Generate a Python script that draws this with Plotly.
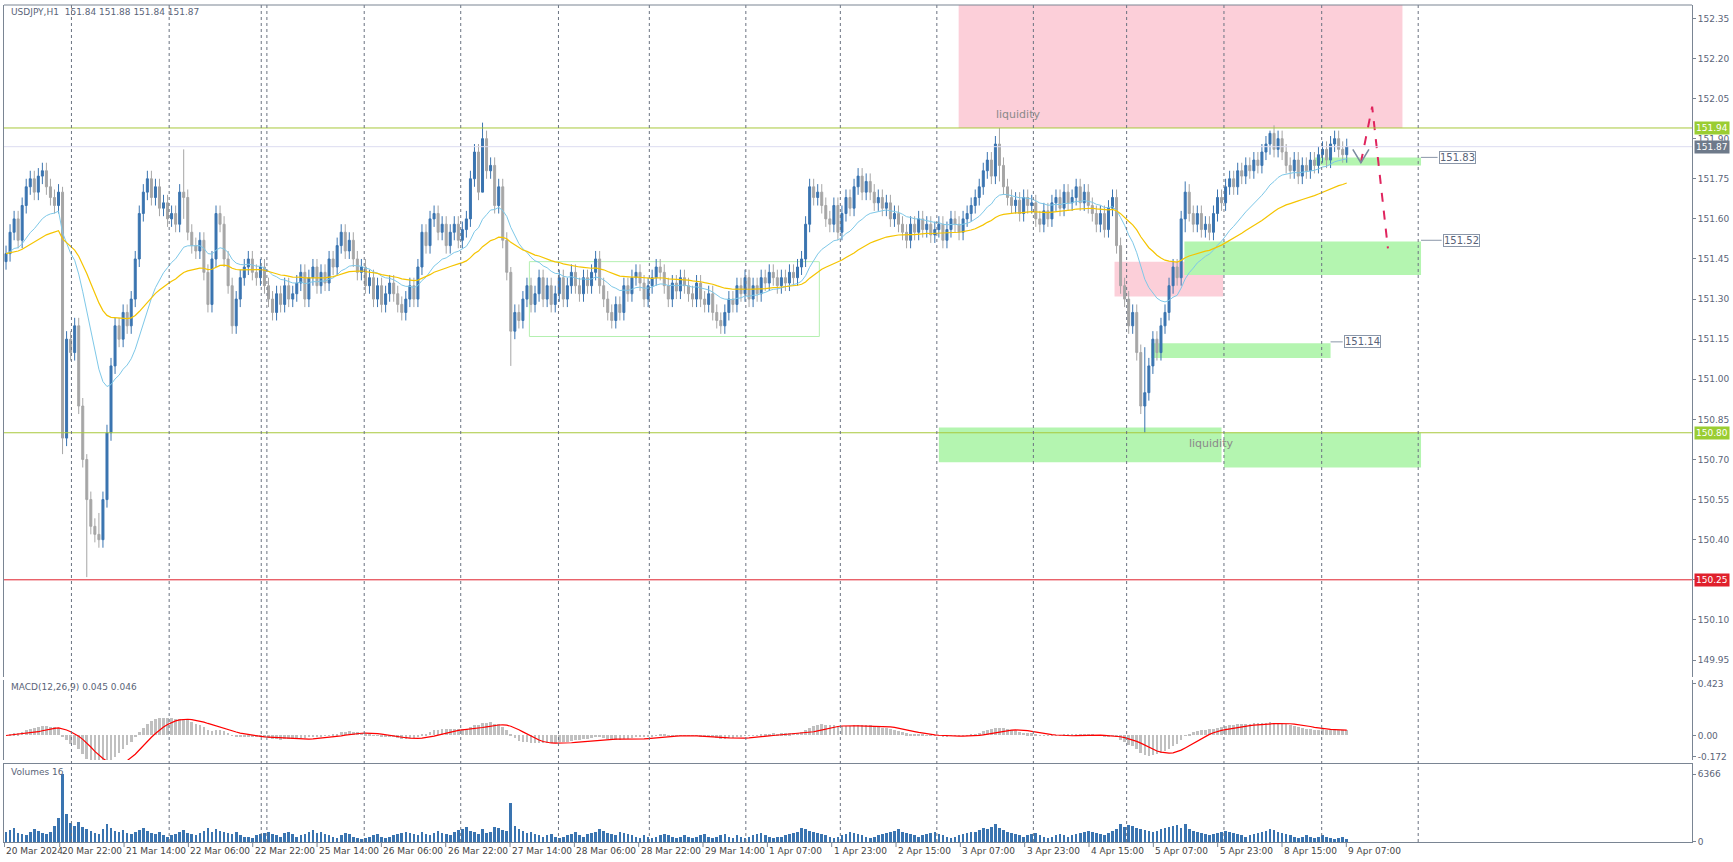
import plotly.graph_objects as go
import pandas as pd

closes = [
151.47,151.55,151.60,151.52,151.65,151.72,151.75,151.70,151.76,151.78,151.72,151.68,151.65,151.70,150.78,151.15,151.10,151.20,150.90,150.70,150.55,150.45,150.42,150.40,
150.55,150.80,151.05,151.20,151.15,151.25,151.20,151.30,151.45,151.62,151.70,151.75,151.68,151.72,151.64,151.66,151.60,151.62,151.58,151.70,151.68,151.55,151.50,151.48,
151.52,151.40,151.28,151.45,151.62,151.58,151.45,151.35,151.20,151.30,151.38,151.42,151.45,151.40,151.38,151.42,151.35,151.30,151.25,151.32,151.28,151.35,151.30,151.32,
151.36,151.40,151.30,151.38,151.42,151.35,151.40,151.36,151.45,151.42,151.50,151.55,151.48,151.52,151.45,151.40,151.42,151.35,151.38,151.30,151.35,151.28,151.32,151.36,
151.32,151.28,151.25,151.30,151.35,151.30,151.42,151.55,151.50,151.60,151.62,151.55,151.58,151.50,151.55,151.58,151.52,151.56,151.60,151.75,151.85,151.70,151.90,151.78,
151.80,151.65,151.72,151.52,151.40,151.18,151.25,151.22,151.30,151.35,151.28,151.32,151.38,151.30,151.35,151.28,151.32,151.38,151.30,151.35,151.40,151.35,151.32,151.38,
151.35,151.40,151.45,151.35,151.30,151.25,151.22,151.28,151.25,151.35,151.32,151.38,151.40,151.36,151.30,151.35,151.38,151.42,151.40,151.35,151.30,151.36,151.33,151.38,
151.35,151.32,151.30,151.36,151.30,151.28,151.32,151.25,151.22,151.20,151.25,151.30,151.28,151.35,151.32,151.38,151.30,151.35,151.32,151.38,151.36,151.40,151.38,151.35,
151.38,151.36,151.40,151.38,151.42,151.45,151.58,151.72,151.68,151.70,151.65,151.60,151.58,151.65,151.55,151.62,151.68,151.64,151.72,151.76,151.70,151.74,151.70,151.66,
151.68,151.64,151.66,151.60,151.62,151.58,151.55,151.52,151.58,151.55,151.60,151.56,151.58,151.54,151.56,151.58,151.52,151.56,151.60,151.58,151.55,151.60,151.62,151.65,
151.68,151.72,151.78,151.82,151.76,151.88,151.80,151.72,151.68,151.65,151.67,151.62,151.68,151.65,151.66,151.60,151.58,151.63,151.60,151.66,151.68,151.64,151.70,151.66,
151.68,151.72,151.66,151.70,151.65,151.62,151.58,151.62,151.56,151.64,151.68,151.50,151.35,151.30,151.20,151.25,151.10,150.90,150.95,151.05,151.15,151.10,151.20,151.25,
151.35,151.42,151.38,151.60,151.70,151.62,151.58,151.62,151.56,151.58,151.55,151.62,151.68,151.66,151.72,151.75,151.72,151.78,151.76,151.80,151.78,151.82,151.80,151.85,
151.88,151.92,151.86,151.90,151.85,151.80,151.78,151.82,151.76,151.80,151.78,151.82,151.80,151.84,151.86,151.82,151.88,151.90,151.86,151.84,151.87]

volumes = [
900,1100,1300,800,700,600,900,1200,1000,800,700,900,1500,2200,6366,2600,1800,1500,1900,1400,1200,1000,800,700,
1200,1700,1300,1000,900,1100,800,700,900,1100,1300,1000,800,700,900,600,500,600,700,900,1100,800,700,600,
800,1000,1300,900,1200,1000,900,800,700,900,600,500,500,400,600,700,800,900,700,600,500,800,900,700,
500,600,700,900,1100,800,900,700,600,500,400,600,800,700,500,400,300,400,500,600,700,500,400,500,
600,700,800,900,800,700,600,900,700,600,800,1000,800,700,600,900,1100,1200,1400,1000,900,700,1200,800,
900,1400,1300,1100,1000,3600,1500,1200,1000,800,900,700,600,500,600,700,500,400,500,600,700,900,600,500,
700,800,900,1200,1000,800,700,600,900,800,700,600,500,400,600,500,400,500,600,700,600,500,400,500,
600,500,400,500,600,700,500,400,500,600,700,500,400,600,500,400,500,600,700,800,600,500,400,500,
500,600,700,800,900,1300,1200,1000,900,800,700,600,500,400,500,600,700,900,800,700,600,500,400,500,
600,700,800,900,1000,1200,900,800,700,600,500,600,700,800,900,700,600,500,400,500,600,700,800,900,
900,1100,1300,1200,1400,1700,1300,1100,900,800,700,600,500,600,700,800,600,500,400,500,600,700,600,500,
600,700,800,900,1000,900,800,700,600,800,1000,1200,1700,1400,1600,1500,1300,1200,1100,1000,900,1000,1200,1300,
1400,1500,1600,1300,1700,1200,1000,900,800,700,600,700,800,900,1000,900,800,700,600,500,600,700,800,900,
1000,1200,1100,900,800,700,600,500,400,500,600,500,400,500,600,500,400,300,400,500,300]

extremes = {14: (151.72, 150.72), 20: (150.72, 150.26), 23: (150.50, 150.37), 44: (151.86, 151.60),
            118: (151.96, 151.70), 125: (151.42, 151.05), 246: (151.94, 151.74), 282: (151.12, 150.80),
            313: (151.93, 151.84), 292: (151.74, 151.55)}

x_labels = ["20 Mar 2024","20 Mar 22:00","21 Mar 14:00","22 Mar 06:00","22 Mar 22:00","25 Mar 14:00",
            "26 Mar 06:00","26 Mar 22:00","27 Mar 14:00","28 Mar 06:00","28 Mar 22:00","29 Mar 14:00",
            "1 Apr 07:00","1 Apr 23:00","2 Apr 15:00","3 Apr 07:00","3 Apr 23:00","4 Apr 15:00",
            "5 Apr 07:00","5 Apr 23:00","8 Apr 15:00","9 Apr 07:00"]
x_label_pos = [-0.4] + [13.3 + 15.93 * k for k in range(21)]
separators = [16.2, 40.4, 63.2, 64.6, 88.7, 112.6, 136.8, 159.3, 183.2, 206.6, 230.5, 254.4, 277.5, 301.6, 325.8, 349.7]

n = len(closes)
idx = list(range(n))
opens = [closes[0] - 0.03] + closes[:-1]
highs, lows = [], []
for i in idx:
    h = max(opens[i], closes[i]) + 0.03
    l = min(opens[i], closes[i]) - 0.03
    if i in extremes:
        h, l = extremes[i]
    highs.append(h); lows.append(l)

s = pd.Series(closes)
ema_fast = s.ewm(span=20, adjust=False).mean()
ema_slow = s.ewm(span=50, adjust=False).mean()
macd = s.ewm(span=12, adjust=False).mean() - s.ewm(span=26, adjust=False).mean()
signal = macd.rolling(9, min_periods=1).mean()

BLUE = "#3a74b0"; GRAY = "#a6a6a6"; FONT = "DejaVu Sans"
fig = go.Figure()
fig.add_trace(go.Candlestick(x=idx, open=opens, high=highs, low=lows, close=closes,
    increasing=dict(line=dict(color=BLUE, width=1), fillcolor=BLUE),
    decreasing=dict(line=dict(color=GRAY, width=1), fillcolor=GRAY),
    whiskerwidth=0, xaxis="x", yaxis="y", showlegend=False, hoverinfo="skip"))
fig.add_trace(go.Scatter(x=idx, y=ema_fast, mode="lines", line=dict(color="#7ec8e8", width=1), xaxis="x", yaxis="y", showlegend=False))
fig.add_trace(go.Scatter(x=idx, y=ema_slow, mode="lines", line=dict(color="#f5c400", width=1.2), xaxis="x", yaxis="y", showlegend=False))
fig.add_trace(go.Bar(x=idx, y=macd, marker_color="#c0c0c0", marker_line_width=0, width=0.65, xaxis="x", yaxis="y2", showlegend=False))
fig.add_trace(go.Scatter(x=idx, y=signal, mode="lines", line=dict(color="#ff0000", width=1.2), xaxis="x", yaxis="y2", showlegend=False))
fig.add_trace(go.Bar(x=idx, y=volumes, marker_color=BLUE, marker_line_width=0, width=0.65, xaxis="x", yaxis="y3", showlegend=False))

shapes = []
def rect(x0, x1, y0, y1, fill, line=None):
    shapes.append(dict(type="rect", xref="x", yref="y", x0=x0, x1=x1, y0=y0, y1=y1,
                       fillcolor=fill, line=dict(width=1 if line else 0, color=line or "rgba(0,0,0,0)"), layer="below"))
rect(235.9, 345.8, 151.94, 152.42, "#fccfd9")
rect(274.5, 301.4, 151.31, 151.44, "#fccfd9")
rect(291.8, 350.4, 151.39, 151.515, "#b4f5b0")
rect(324, 350.4, 151.80, 151.83, "#b4f5b0")
rect(283.6, 328, 151.08, 151.135, "#b4f5b0")
rect(231, 301, 150.69, 150.82, "#b4f5b0")
rect(301.6, 350.4, 150.67, 150.80, "#b4f5b0")
rect(129.6, 201.4, 151.16, 151.44, "rgba(0,0,0,0)", "#b4f0b0")
for yv, col in [(151.94, "#a8c83c"), (150.80, "#a8c83c"), (150.25, "#e0202c"), (151.87, "#dcdcf0")]:
    shapes.append(dict(type="line", xref="paper", yref="y", x0=0, x1=1, y0=yv, y1=yv, line=dict(color=col, width=1)))
for b in separators:
    shapes.append(dict(type="line", xref="x", yref="paper", x0=b, x1=b, y0=0, y1=1, line=dict(color="#6a7280", width=1, dash="3px,3px")))
fig.add_trace(go.Scatter(x=[335.5, 338.3, 342.2], y=[151.81, 152.02, 151.49], mode="lines",
    line=dict(color="#e0245e", width=2, dash="dash"), xaxis="x", yaxis="y", showlegend=False))
fig.add_trace(go.Scatter(x=[333.5, 335.5, 337.5], y=[151.86, 151.81, 151.86], mode="lines",
    line=dict(color="#7a8aa0", width=1.5), xaxis="x", yaxis="y", showlegend=False))
for x0, x1, yv in [(350.4, 354.5, 151.83), (350.4, 355.5, 151.52), (328, 331, 151.14)]:
    shapes.append(dict(type="line", xref="x", yref="y", x0=x0, x1=x1, y0=yv, y1=yv, line=dict(color="#8a96a8", width=1)))
shapes.append(dict(type="line", xref="paper", yref="paper", x0=0, x1=1, y0=1, y1=1, line=dict(color="#7a8593", width=1)))

ann = []
for t, xv, yv in [("151.83", 354.8, 151.83), ("151.52", 355.8, 151.52), ("151.14", 331.3, 151.14)]:
    ann.append(dict(text=t, x=xv, y=yv, xref="x", yref="y", xanchor="left", showarrow=False,
                    font=dict(size=10, color="#5a6478", family=FONT), bordercolor="#8a96a8", borderwidth=1, borderpad=0, bgcolor="white"))
ann.append(dict(text="liquidity", x=250.5, y=151.99, xref="x", yref="y", showarrow=False, font=dict(size=11, color="#8a8a8a", family=FONT)))
ann.append(dict(text="liquidity", x=298.5, y=150.76, xref="x", yref="y", showarrow=False, font=dict(size=11, color="#8a8a8a", family=FONT)))
for t, yv, bg in [("151.94", 151.94, "#9acd32"), ("151.87", 151.87, "#6e7a8a"), ("150.80", 150.80, "#9acd32"), ("150.25", 150.25, "#e0202c")]:
    ann.append(dict(text=t, x=1.001, y=yv, xref="paper", yref="y", xanchor="left", showarrow=False,
                    font=dict(size=9, color="white", family=FONT), bgcolor=bg, borderpad=1))
ann.append(dict(text="USDJPY,H1  151.84 151.88 151.84 151.87", x=0.003, y=1, xref="paper", yref="paper", xanchor="left", yanchor="top", showarrow=False, font=dict(size=9, color="#5a6478", family=FONT)))
ann.append(dict(text="MACD(12,26,9) 0.045 0.046", x=0.003, y=0.193, xref="paper", yref="paper", xanchor="left", yanchor="top", showarrow=False, font=dict(size=9, color="#5a6478", family=FONT)))
ann.append(dict(text="Volumes 16", x=0.003, y=0.092, xref="paper", yref="paper", xanchor="left", yanchor="top", showarrow=False, font=dict(size=9, color="#5a6478", family=FONT)))
for t, p in zip(x_labels, x_label_pos):
    ann.append(dict(text=t, x=p, y=0, xref="x", yref="paper", xanchor="left", yanchor="top", yshift=-2, showarrow=False, font=dict(size=9, color="#444", family=FONT)))
    shapes.append(dict(type="line", xref="x", yref="paper", x0=p, x1=p, y0=0, y1=-0.006, line=dict(color="#7a8593", width=1)))

ax = dict(showgrid=False, zeroline=False, showline=True, linecolor="#7a8593", mirror=True,
          side="right", ticks="outside", ticklen=3, tickcolor="#7a8593", tickfont=dict(size=9, color="#5a6478", family=FONT), fixedrange=True)
main_ticks = [round(149.95 + 0.15 * k, 2) for k in range(17)]
fig.update_layout(
    width=1733, height=862, paper_bgcolor="white", plot_bgcolor="white",
    margin=dict(l=3, r=40, t=5, b=20),
    xaxis=dict(range=[-0.5, 417.5], showticklabels=False, showgrid=False, zeroline=False, showline=True, linecolor="#7a8593", mirror=True, rangeslider=dict(visible=False), anchor="y3", fixedrange=True),
    yaxis=dict(domain=[0.197, 1], range=[149.886, 152.40], tickvals=main_ticks, ticktext=[f"{v:.2f}" for v in main_ticks], **ax),
    yaxis2=dict(domain=[0.098, 0.193], range=[-0.2, 0.45], tickvals=[0.423, 0.0, -0.172], ticktext=["0.423", "0.00", "-0.172"], **ax),
    yaxis3=dict(domain=[0, 0.093], range=[0, 7300], tickvals=[0, 6366], ticktext=["0", "6366"], **ax),
    shapes=shapes, annotations=ann, bargap=0,
)
fig.write_html("out.html", config={"displayModeBar": False},
               post_script="document.body.style.margin='0';document.body.style.overflow='hidden';")
